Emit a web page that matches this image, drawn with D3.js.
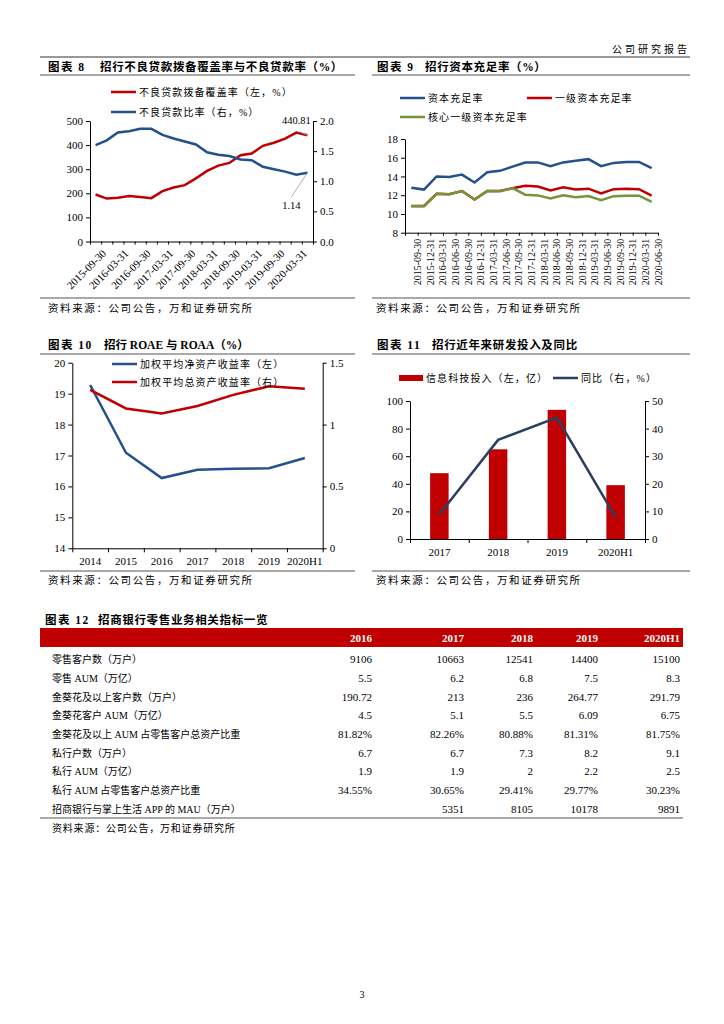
<!DOCTYPE html>
<html>
<head>
<meta charset="utf-8">
<script src="https://cdn.jsdelivr.net/npm/d3@7"></script>
<style>
body { margin: 0; background: #fff; }
svg { display: block; }
text { font-family: "Liberation Serif", "Noto Sans CJK SC", serif; fill: #000; white-space: pre; }
</style>
</head>
<body>
<div id="page"></div>
<script>
// 图表8
const nplDates = ["2015-09-30","2015-12-31","2016-03-31","2016-06-30","2016-09-30","2016-12-31",
  "2017-03-31","2017-06-30","2017-09-30","2017-12-31","2018-03-31","2018-06-30","2018-09-30",
  "2018-12-31","2019-03-31","2019-06-30","2019-09-30","2019-12-31","2020-03-31","2020-06-30"]
const coverage = [195, 178, 182, 189, 185, 180, 209, 224, 234, 262, 293, 315, 326, 358, 365, 397, 410, 427, 452, 440.81]
const nplRatio = [1.60, 1.68, 1.81, 1.83, 1.87, 1.87, 1.77, 1.71, 1.66, 1.61, 1.48, 1.44, 1.42, 1.36, 1.35, 1.24, 1.20, 1.16, 1.11, 1.14]

// 图表9
const capDates = nplDates
const capTotal = [12.8, 12.6, 14.0, 13.95, 14.2, 13.35, 14.45, 14.6, 15.05, 15.48, 15.5, 15.1, 15.5, 15.68, 15.85, 15.1, 15.45, 15.54, 15.55, 14.9]
const capTier1 = [10.85, 10.85, 12.15, 12.1, 12.45, 11.55, 12.45, 12.45, 12.75, 13.02, 12.92, 12.5, 12.85, 12.62, 12.7, 12.2, 12.65, 12.69, 12.65, 11.95]
const capCore = [10.83, 10.83, 12.15, 12.1, 12.45, 11.54, 12.45, 12.43, 12.75, 12.06, 11.98, 11.65, 12.0, 11.78, 11.92, 11.46, 11.9, 11.95, 11.95, 11.3]

// 图表10
const roaYears = ["2014","2015","2016","2017","2018","2019","2020H1"]
const roae = [19.28, 17.09, 16.27, 16.54, 16.57, 16.59, 16.92]
const roaa = [1.28, 1.13, 1.09, 1.15, 1.24, 1.31, 1.29]

// 图表11
const itYears = ["2017","2018","2019","2020H1"]
const itSpend = [47.7, 65.0, 93.6, 39.0]
const itYoy = [8.9, 35.9, 44.0, 7.9]

// 图表12
const tableCols = ["2016","2017","2018","2019","2020H1"]
const tableRows = ["零售客户数（万户）","零售 AUM（万亿）","金葵花及以上客户数（万户）","金葵花客户 AUM（万亿）",
  "金葵花及以上 AUM 占零售客户总资产比重","私行户数（万户）","私行 AUM（万亿）","私行 AUM 占零售客户总资产比重",
  "招商银行与掌上生活 APP 的 MAU（万户）"]
const tableValues = [
  ["9106","10663","12541","14400","15100"],
  ["5.5","6.2","6.8","7.5","8.3"],
  ["190.72","213","236","264.77","291.79"],
  ["4.5","5.1","5.5","6.09","6.75"],
  ["81.82%","82.26%","80.88%","81.31%","81.75%"],
  ["6.7","6.7","7.3","8.2","9.1"],
  ["1.9","1.9","2","2.2","2.5"],
  ["34.55%","30.65%","29.41%","29.77%","30.23%"],
  ["","5351","8105","10178","9891"]
]
const sourceText = "资料来源：公司公告，万和证券研究所"

const RED = "#c00000"
const BLUE = "#24508c"
const NAVY = "#2b3f63"
const GREEN = "#77933c"

const svg = d3.select("#page").append("svg")
  .attr("width", 724)
  .attr("height", 1024)

function hline(x1, x2, y, color, w) {
  svg.append("line").attr("x1", x1).attr("x2", x2).attr("y1", y).attr("y2", y)
    .attr("stroke", color || "#333").attr("stroke-width", w || 1)
}

function label(x, y, s, size, opts) {
  opts = opts || {}
  return svg.append("text").attr("x", x).attr("y", y).text(s)
    .style("font-size", size + "px")
    .style("font-weight", opts.bold ? "bold" : "normal")
    .style("letter-spacing", (opts.spacing || 0) + "px")
    .attr("text-anchor", opts.anchor || "start")
    .style("fill", opts.fill || "#000")
}

function title(x1, x2, y, num, s, spacing) {
  label(x1, y, "图表 " + num, 11.5, {bold: true, spacing: 1.5})
  label(x2, y, s, 11.5, {bold: true, spacing: spacing === undefined ? 0.65 : spacing})
}

function styleAxis(g, size) {
  g.selectAll("path, line").attr("stroke", "#000").attr("stroke-width", 1)
  g.selectAll("text").style("font-size", (size || 11) + "px")
    .style("font-family", '"Liberation Serif", serif')
}

function legendLine(x, y, color, s) {
  svg.append("line").attr("x1", x).attr("x2", x + 25).attr("y1", y).attr("y2", y)
    .attr("stroke", color).attr("stroke-width", 2.5)
  label(x + 28, y + 3.5, s, 10, {spacing: 1.1})
}

// 页眉
label(690, 53, "公司研究报告", 10, {anchor: "end", spacing: 3})
hline(40, 690, 57, "#333", 1)

title(48, 100, 71, "8", "招行不良贷款拨备覆盖率与不良贷款率（%）")
hline(40, 355, 75, "#555", 1)
title(377, 425, 71, "9", "招行资本充足率（%）")
hline(372, 690, 75, "#555", 1)

// ---------- 图表8 ----------
{
  const x = d3.scaleBand().domain(nplDates).range([90, 313])
  const yL = d3.scaleLinear().domain([0, 500]).range([241.5, 121])
  const yR = d3.scaleLinear().domain([0, 2]).range([241.5, 121])
  const half = x.bandwidth() / 2

  styleAxis(svg.append("g").attr("transform", "translate(90,0)")
    .call(d3.axisLeft(yL).ticks(5).tickSize(4).tickSizeOuter(0)))
  styleAxis(svg.append("g").attr("transform", "translate(313,0)")
    .call(d3.axisRight(yR).tickValues([0, 0.5, 1, 1.5, 2]).tickFormat(d3.format(".1f")).tickSize(4).tickSizeOuter(0)))

  const tickScale = d3.scaleLinear().domain([0, nplDates.length]).range([90, 313])
  styleAxis(svg.append("g").attr("transform", "translate(0,241.5)")
    .call(d3.axisBottom(tickScale).ticks(nplDates.length).tickFormat("").tickSize(3).tickSizeOuter(0)))

  const xl = svg.append("g").attr("transform", "translate(" + half + ",241.5)")
    .call(d3.axisBottom(x).tickValues(nplDates.filter((d, i) => i % 2 === 0)).tickSize(0))
  xl.select(".domain").remove()
  styleAxis(xl, 10.8)
  xl.selectAll("text").attr("y", 0).attr("dy", "0.35em")
    .attr("text-anchor", "end").attr("transform", "translate(3,10) rotate(-45)")

  const line = d3.line().x((d, i) => x(nplDates[i]) + half)
  svg.append("path").attr("d", line.y(d => yL(d))(coverage))
    .attr("fill", "none").attr("stroke", RED).attr("stroke-width", 2.5)
  svg.append("path").attr("d", line.y(d => yR(d))(nplRatio))
    .attr("fill", "none").attr("stroke", BLUE).attr("stroke-width", 2.5)

  const lastX = x(nplDates[nplDates.length - 1]) + half
  const lastC = coverage[coverage.length - 1]
  const lastN = nplRatio[nplRatio.length - 1]
  svg.append("line").attr("x1", lastX - 7).attr("y1", yL(lastC) - 3).attr("x2", lastX).attr("y2", yL(lastC))
    .attr("stroke", "#999").attr("stroke-width", 0.8)
  label(lastX - 11, yL(lastC) - 11, d3.format(".2f")(lastC), 10.5, {anchor: "middle"})
  svg.append("line").attr("x1", lastX - 16).attr("y1", yR(lastN) + 24).attr("x2", lastX).attr("y2", yR(lastN))
    .attr("stroke", "#999").attr("stroke-width", 0.8)
  label(lastX - 16, yR(lastN) + 36, d3.format(".2f")(lastN), 10.5, {anchor: "middle"})

  legendLine(111, 92, RED, "不良贷款拨备覆盖率（左，%）")
  legendLine(111, 112, BLUE, "不良贷款比率（右，%）")
}

// ---------- 图表9 ----------
{
  const x = d3.scaleBand().domain(capDates).range([405, 658])
  const y = d3.scaleLinear().domain([8, 18]).range([232.7, 139])
  const half = x.bandwidth() / 2

  styleAxis(svg.append("g").attr("transform", "translate(405,0)")
    .call(d3.axisLeft(y).ticks(5).tickSize(4).tickSizeOuter(0)))
  const tickScale = d3.scaleLinear().domain([0, capDates.length]).range([405, 658])
  styleAxis(svg.append("g").attr("transform", "translate(0,232.7)")
    .call(d3.axisBottom(tickScale).ticks(capDates.length).tickFormat("").tickSize(3).tickSizeOuter(0)))

  const xl = svg.append("g").attr("transform", "translate(" + half + ",232.7)")
    .call(d3.axisBottom(x).tickSize(0))
  xl.select(".domain").remove()
  styleAxis(xl, 10)
  xl.selectAll("text").attr("y", 0).attr("dy", "0.35em")
    .attr("text-anchor", "end").attr("transform", "translate(0,6) rotate(-90)")

  const line = d3.line().x((d, i) => x(capDates[i]) + half).y(d => y(d))
  svg.append("path").attr("d", line(capTotal)).attr("fill", "none").attr("stroke", BLUE).attr("stroke-width", 2.5)
  svg.append("path").attr("d", line(capTier1)).attr("fill", "none").attr("stroke", RED).attr("stroke-width", 2.5)
  svg.append("path").attr("d", line(capCore)).attr("fill", "none").attr("stroke", GREEN).attr("stroke-width", 2.5)

  legendLine(400, 98, BLUE, "资本充足率")
  legendLine(527, 98, RED, "一级资本充足率")
  legendLine(400, 117, GREEN, "核心一级资本充足率")
}

hline(40, 355, 298, "#555", 1)
hline(372, 690, 298, "#555", 1)
label(48, 312, sourceText, 10.5, {spacing: 1.6})
label(376, 312, sourceText, 10.5, {spacing: 1.6})

title(48, 104, 349, "10", "招行 ROAE 与 ROAA（%）", 0)
hline(40, 355, 354, "#555", 1)
title(377, 432, 349, "11", "招行近年来研发投入及同比")
hline(372, 690, 354, "#555", 1)

// ---------- 图表10 ----------
{
  const x = d3.scaleBand().domain(roaYears).range([72.3, 322.7])
  const yL = d3.scaleLinear().domain([14, 20]).range([548.3, 362.7])
  const yR = d3.scaleLinear().domain([0, 1.5]).range([548.3, 362.7])
  const half = x.bandwidth() / 2

  styleAxis(svg.append("g").attr("transform", "translate(72.3,0)")
    .call(d3.axisLeft(yL).ticks(6).tickSize(4).tickSizeOuter(0)))
  styleAxis(svg.append("g").attr("transform", "translate(322.7,0)")
    .call(d3.axisRight(yR).tickValues([0, 0.5, 1, 1.5]).tickFormat(d => String(d)).tickSize(4).tickSizeOuter(0)))

  const tickScale = d3.scaleLinear().domain([0, roaYears.length]).range([72.3, 322.7])
  styleAxis(svg.append("g").attr("transform", "translate(0,548.3)")
    .call(d3.axisBottom(tickScale).ticks(roaYears.length).tickFormat("").tickSize(4).tickSizeOuter(0)))
  const xl = svg.append("g").attr("transform", "translate(0,548.3)")
    .call(d3.axisBottom(x).tickSize(0).tickPadding(9))
  xl.select(".domain").remove()
  styleAxis(xl, 11)

  const line = d3.line().x((d, i) => x(roaYears[i]) + half)
  svg.append("path").attr("d", line.y(d => yL(d))(roae))
    .attr("fill", "none").attr("stroke", BLUE).attr("stroke-width", 2.5)
  svg.append("path").attr("d", line.y(d => yR(d))(roaa))
    .attr("fill", "none").attr("stroke", RED).attr("stroke-width", 2.5)

  legendLine(112, 364, BLUE, "加权平均净资产收益率（左）")
  legendLine(112, 382, RED, "加权平均总资产收益率（右）")
}

// ---------- 图表11 ----------
{
  const x = d3.scaleBand().domain(itYears).range([410, 645])
  const yL = d3.scaleLinear().domain([0, 100]).range([539, 401])
  const yR = d3.scaleLinear().domain([0, 50]).range([539, 401])
  const half = x.bandwidth() / 2
  const barW = 18.5

  styleAxis(svg.append("g").attr("transform", "translate(410,0)")
    .call(d3.axisLeft(yL).ticks(5).tickSize(4).tickSizeOuter(0)))
  styleAxis(svg.append("g").attr("transform", "translate(645,0)")
    .call(d3.axisRight(yR).ticks(5).tickSize(4).tickSizeOuter(0)))

  svg.selectAll(".itbar").data(itSpend).join("rect").attr("class", "itbar")
    .attr("x", (d, i) => x(itYears[i]) + half - barW / 2)
    .attr("y", d => yL(d))
    .attr("width", barW)
    .attr("height", d => 539 - yL(d))
    .attr("fill", RED)

  const tickScale = d3.scaleLinear().domain([0, itYears.length]).range([410, 645])
  styleAxis(svg.append("g").attr("transform", "translate(0,539)")
    .call(d3.axisBottom(tickScale).ticks(itYears.length).tickFormat("").tickSize(4).tickSizeOuter(0)))
  const xl = svg.append("g").attr("transform", "translate(0,539)")
    .call(d3.axisBottom(x).tickSize(0).tickPadding(9))
  xl.select(".domain").remove()
  styleAxis(xl, 11)

  const line = d3.line().x((d, i) => x(itYears[i]) + half).y(d => yR(d))
  svg.append("path").attr("d", line(itYoy)).attr("fill", "none").attr("stroke", NAVY).attr("stroke-width", 2.5)

  svg.append("rect").attr("x", 399).attr("y", 375).attr("width", 24).attr("height", 6).attr("fill", RED)
  label(426, 381.5, "信息科技投入（左，亿）", 10, {spacing: 1.1})
  legendLine(553, 378, NAVY, "同比（右，%）")
}

hline(40, 355, 571, "#555", 1)
hline(372, 690, 571, "#555", 1)
label(48, 584, sourceText, 10.5, {spacing: 1.6})
label(376, 584, sourceText, 10.5, {spacing: 1.6})

// ---------- 图表12 ----------
{
  title(45, 98, 624, "12", "招商银行零售业务相关指标一览")
  const colRight = [372, 464, 533, 598, 680]
  const rowY = d3.scaleBand().domain(tableRows).range([650, 818])

  svg.append("rect").attr("x", 40).attr("y", 628).attr("width", 643).attr("height", 19).attr("fill", RED)
  tableCols.forEach((c, i) => label(colRight[i], 641.5, c, 11, {anchor: "end", bold: true, fill: "#fff"}))

  tableRows.forEach((r, j) => {
    const cy = rowY(r) + rowY.bandwidth() / 2
    label(52, cy + 4, r, 10)
    tableValues[j].forEach((v, i) => label(colRight[i], cy + 4, v, 11, {anchor: "end"}))
  })
  hline(40, 683, 818, "#555", 1.2)
  label(52, 832, sourceText, 10, {spacing: 0.8})
}

label(362, 998, "3", 10, {anchor: "middle"})
</script>
</body>
</html>
